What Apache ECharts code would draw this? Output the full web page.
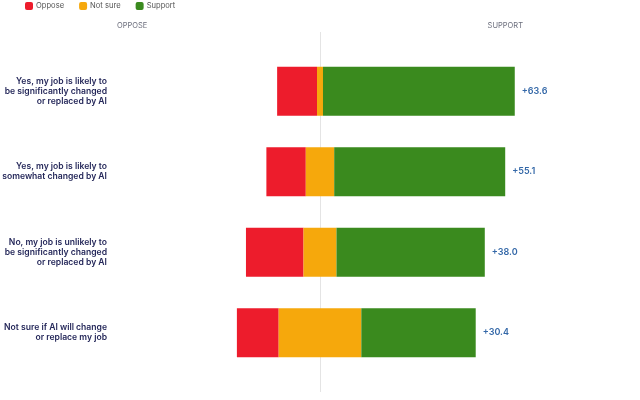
<!DOCTYPE html>
<html><head><meta charset="utf-8">
<script src="https://cdn.jsdelivr.net/npm/echarts@6/dist/echarts.min.js"></script>
<style>html,body{margin:0;padding:0;background:#fff}#c{width:640px;height:400px}</style>
</head><body><div id="c"></div>
<script>
const categories = [
  'Yes, my job is likely to\nbe significantly changed\nor replaced by AI',
  'Yes, my job is likely to\nsomewhat changed by AI',
  'No, my job is unlikely to\nbe significantly changed\nor replaced by AI',
  'Not sure if AI will change\nor replace my job'
];
const oppose  = [16.7, 16.5, 24.1, 17.5];
const notSure = [2.5, 11.9, 13.8, 34.6];
const support = [80.3, 71.6, 62.1, 47.9];
const net     = ['+63.6', '+55.1', '+38.0', '+30.4'];

const RED = '#ED1C2C', ORANGE = '#F6A80C', GREEN = '#3A8A1E';
const FONT = 'Inter';

const chart = echarts.init(document.getElementById('c'), null, {renderer: 'canvas'});
const barCommon = {type: 'bar', stack: 's', stackStrategy: 'all', barWidth: 49, z: 3, xAxisIndex: 0, yAxisIndex: 0};
chart.setOption({
  animation: false,
  textStyle: {fontFamily: FONT},
  title: [
    {text: 'OPPOSE', left: 112, top: 17, textStyle: {fontSize: 7.5, fontWeight: 'normal', color: '#6b6e7c', fontFamily: FONT}},
    {text: 'SUPPORT', right: 112, top: 17, textStyle: {fontSize: 7.5, fontWeight: 'normal', color: '#6b6e7c', fontFamily: FONT}}
  ],
  legend: {
    left: 20, top: -3, itemWidth: 8, itemHeight: 8, itemGap: 15, icon: 'roundRect',
    data: ['Oppose', 'Not sure', 'Support'],
    textStyle: {fontSize: 7.6, color: '#555', fontFamily: FONT, padding: [0, 0, 0, -2]}
  },
  grid: [
    {left: 117, right: 117, top: 51, bottom: 27, outerBoundsMode: 'none', containLabel: false},
    {left: 117, right: 117, top: 32, bottom: 8, outerBoundsMode: 'none', containLabel: false}
  ],
  xAxis: [
    {gridIndex: 0, type: 'value', min: -85, max: 85, show: false},
    {gridIndex: 1, type: 'value', min: -85, max: 85, interval: 85,
     axisLine: {show: false}, axisTick: {show: false}, axisLabel: {show: false},
     splitLine: {show: true, showMinLine: false, showMaxLine: false, lineStyle: {color: '#e4e4e4', width: 1}}}
  ],
  yAxis: [
    {gridIndex: 0, type: 'category', data: categories, inverse: true,
     axisLine: {show: false}, axisTick: {show: false}, splitLine: {show: false},
     axisLabel: {margin: 10, fontSize: 8.6, fontWeight: 600, color: '#25285a', lineHeight: 10, align: 'right', fontFamily: FONT}},
    {gridIndex: 1, type: 'value', show: false}
  ],
  series: [
    Object.assign({}, barCommon, {name: 'base', itemStyle: {color: 'rgba(0,0,0,0)'}, silent: true,
     data: oppose.map((v, i) => -(v + notSure[i] / 2))}),
    Object.assign({}, barCommon, {name: 'Oppose', itemStyle: {color: RED}, data: oppose}),
    Object.assign({}, barCommon, {name: 'Not sure', itemStyle: {color: ORANGE}, data: notSure}),
    Object.assign({}, barCommon, {name: 'Support', itemStyle: {color: GREEN}, data: support,
     label: {show: true, position: 'right', distance: 7, fontSize: 9, fontWeight: 600, color: '#3468a8', fontFamily: FONT,
             formatter: p => net[p.dataIndex]}})
  ]
});
</script></body></html>
